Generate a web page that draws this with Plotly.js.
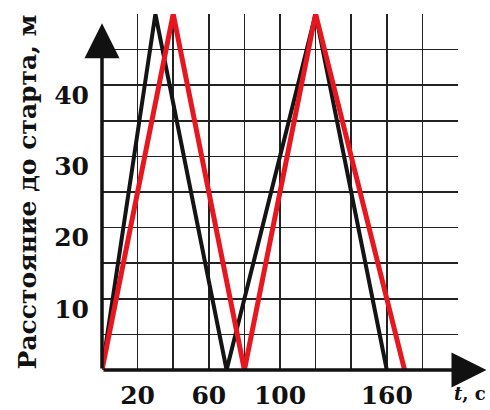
<!DOCTYPE html>
<html>
<head>
<meta charset="utf-8">
<script src="https://cdn.plot.ly/plotly-3.0.1.min.js"></script>
<style>
html,body{margin:0;padding:0;background:#fff;}
#chart{width:490px;height:410px;}
</style>
</head>
<body>
<div id="chart"></div>
<script>
// Data
const blackTime = [0, 30, 70, 120, 160];
const blackDist = [0, 50, 0, 50, 0];
const redTime = [0, 40, 80, 120, 170];
const redDist = [0, 50, 0, 50, 0];

// Tick labels
const xTickVals = [0, 20, 40, 60, 80, 100, 120, 140, 160, 180, 200];
const xTickText = ['', '20', '', '60', '', '100', '', '', '160', '', ''];
const yTickVals = [0, 5, 10, 15, 20, 25, 30, 35, 40, 45, 50];
const yTickText = ['', '', '10', '', '20', '', '30', '', '40', '', ''];

const yTitle = 'Расстояние до старта, м';
const xTitle = '<i>t</i>, с';

const tickFont = {family: '"DejaVu Serif", serif', size: 25, color: '#111', weight: 700};

const traces = [
  {x: blackTime, y: blackDist, type: 'scatter', mode: 'lines',
   line: {color: '#141414', width: 4}, hoverinfo: 'skip', showlegend: false},
  {x: redTime, y: redDist, type: 'scatter', mode: 'lines',
   line: {color: '#e8161e', width: 5}, hoverinfo: 'skip', showlegend: false}
];

const layout = {
  width: 490, height: 410,
  margin: {l: 102, r: 32, t: 14, b: 40, pad: 0},
  paper_bgcolor: '#fff', plot_bgcolor: '#fff',
  showlegend: false,
  xaxis: {
    range: [0, 200], tickvals: xTickVals, ticktext: xTickText,
    showgrid: true, gridcolor: '#222', gridwidth: 1.5,
    zeroline: false, showline: false, ticks: '',
    tickfont: tickFont, ticklabelstandoff: 8, fixedrange: true
  },
  yaxis: {
    range: [0, 50], tickvals: yTickVals, ticktext: yTickText,
    showgrid: true, gridcolor: '#222', gridwidth: 1.5,
    zeroline: false, showline: false, ticks: '',
    tickfont: tickFont, ticklabelstandoff: 12, ticklabelshift: 10,
    title: {text: yTitle, standoff: 10,
            font: {family: '"DejaVu Serif", serif', size: 25, color: '#111', weight: 700}},
    fixedrange: true
  },
  annotations: [
    // y axis with arrow
    {x: 0, y: 48.7, xref: 'x', yref: 'y', ax: 0, ay: 0, axref: 'x', ayref: 'y',
     showarrow: true, arrowhead: 2, arrowsize: 2, arrowwidth: 3.5, arrowcolor: '#111', text: ''},
    // x axis with arrow
    {x: 216, y: 0, xref: 'x', yref: 'y', ax: 0, ay: 0, axref: 'x', ayref: 'y',
     showarrow: true, arrowhead: 2, arrowsize: 2, arrowwidth: 3.5, arrowcolor: '#111', text: ''},
    // x axis title
    {x: 1, y: 0, xref: 'paper', yref: 'paper', xanchor: 'left', yanchor: 'top',
     xshift: -6, yshift: -11, showarrow: false, text: xTitle,
     font: {family: '"DejaVu Serif", serif', size: 18, color: '#111', weight: 700}}
  ]
};

Plotly.newPlot('chart', traces, layout, {displayModeBar: false, staticPlot: true});
</script>
</body>
</html>
